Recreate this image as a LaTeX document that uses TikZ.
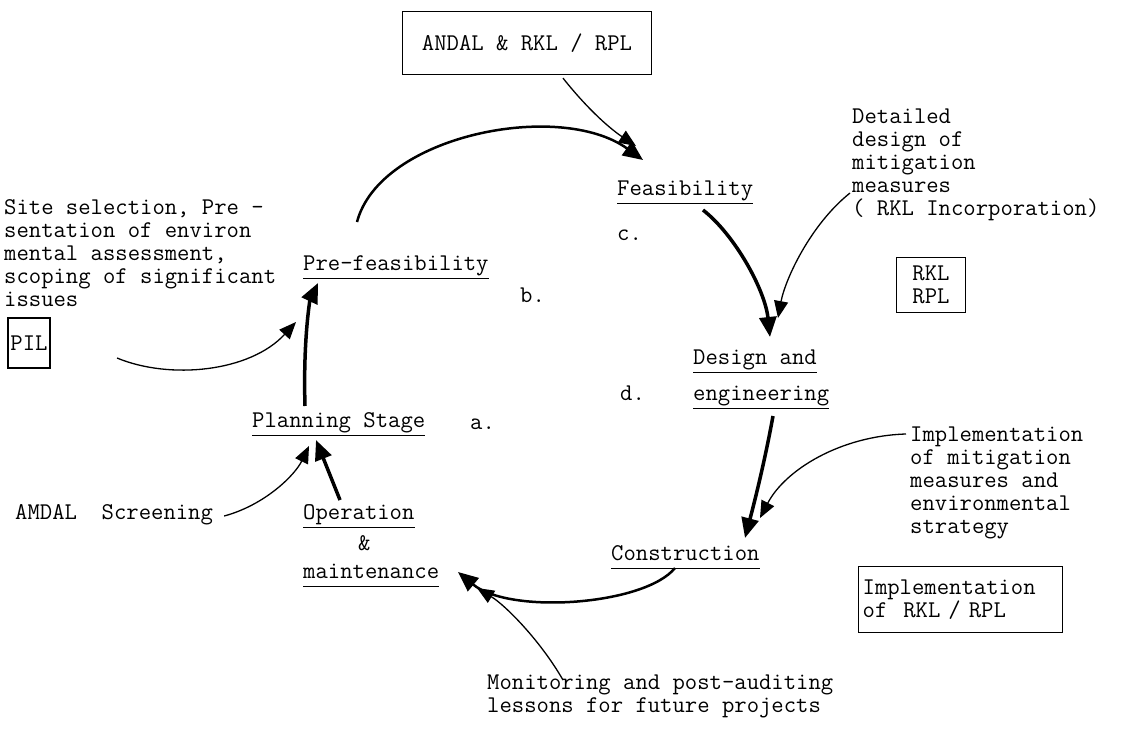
\documentclass[tikz,border=0pt]{standalone}
\usepackage{fontspec}
\usetikzlibrary{arrows.meta,calc}
\begin{document}
\begin{tikzpicture}[x=1pt,y=-1pt,
  txt/.style={font=\ttfamily\fontsize{24}{23}\selectfont, inner sep=0pt, align=left},
  boxed/.style={txt, draw, line width=1.3pt, inner sep=4pt},
  uline/.style={line width=1pt},
  thinarrow/.style={line width=1.3pt, -{Triangle[length=17pt,width=14pt]}},
  thickarrow/.style={line width=3.5pt, -{Triangle[length=20pt,width=17pt]}},
  arcarrow/.style={line width=2.5pt, -{Triangle[length=20pt,width=17pt]}},
]
\fill[white] (0,0) rectangle (1136,744);
\useasboundingbox (0,0) rectangle (1136,744);

% boxes
\node[boxed, minimum width=249pt, minimum height=63pt, align=center] (top) at (527,43) {ANDAL \& RKL / RPL};
\node[boxed, minimum width=42pt, minimum height=50pt, inner sep=2pt] (pil) at (29,343) {PIL};
\node[boxed, minimum width=69pt, minimum height=55pt, align=center] (rkl) at (931,285) {RKL\\RPL};
\node[boxed, anchor=north west, text width=196pt, minimum height=66pt, inner xsep=4pt] (implbox) at (858,566) {Implementation\\of\ \ RKL / RPL};

% stage labels
\node[txt, anchor=base west] (pre) at (303,270) {Pre-feasibility};
\node[txt, anchor=base west] (bl) at (520,302) {b.};
\node[txt, anchor=base west] (plan) at (252,427) {Planning Stage};
\node[txt, anchor=base west] (al) at (470,429) {a.};
\node[txt, anchor=base west] (op) at (303,519) {Operation};
\node[txt, anchor=base west] (amp) at (358,550) {\&};
\node[txt, anchor=base west] (maint) at (303,578) {maintenance};
\node[txt, anchor=base west] (cons) at (611,560) {Construction};
\node[txt, anchor=base west] (desa) at (693,364) {Design and};
\node[txt, anchor=base west] (dl) at (620,400) {d.};
\node[txt, anchor=base west] (eng) at (693,400) {engineering};
\node[txt, anchor=base west] (feas) at (617,195) {Feasibility};
\node[txt, anchor=base west] (cl) at (617,240) {c.};

% comment texts
\node[txt, anchor=north west] (site) at (4,199)
  {Site selection, Pre -\\sentation of environ\\mental assessment,\\scoping of significant\\issues};
\node[txt, anchor=base west] (amdal) at (15,519) {AMDAL\ \ Screening};
\node[txt, anchor=north west] (det) at (852,109)
  {Detailed\\design of\\mitigation\\measures\\( RKL Incorporation)};
\node[txt, anchor=north west] (impl) at (910,427)
  {Implementation\\of mitigation\\measures and\\environmental\\strategy};
\node[txt, anchor=north west] (mon) at (487,675)
  {Monitoring and post-auditing\\lessons for future projects};

% underlines
\foreach \n in {pre,plan,op,maint,cons,desa,eng,feas}
  \draw[uline] ($(\n.base west)+(0,8)$) -- ($(\n.base east)+(0,8)$);

% connectors
\draw[thinarrow] ($(top.south)+(36,3)$) .. controls (590,112) and (612,130) .. ($(feas.base west)+(19,-49)$);
\draw[arcarrow] ($(pre.base west)+(54,-48)$) .. controls (380,135) and (560,100) .. ($(feas.base west)+(26,-35)$);
\draw[thickarrow] ($(feas.base west)+(86,15)$) .. controls (735,235) and (765,290) .. ($(desa.base west)+(77,-27)$);
\draw[thinarrow] ($(det.north west)+(-2,84)$) .. controls (810,225) and (785,280) .. ($(desa.base west)+(85,-46)$);
\draw[thickarrow] ($(eng.base west)+(80,16)$) .. controls (765,460) and (755,500) .. ($(cons.base west)+(134,-22)$);
\draw[thinarrow] ($(impl.north west)+(-4,7)$) .. controls (840,436) and (785,470) .. ($(cons.base west)+(149,-42)$);
\draw[arcarrow] ($(cons.base west)+(64,8)$) .. controls (645,605) and (510,615) .. ($(maint.base west)+(155,-6)$);
\draw[thinarrow] ($(mon.north west)+(76,5)$) .. controls (540,640) and (505,605) .. ($(maint.base west)+(174,10)$);
\draw[thickarrow] ($(op.base west)+(37,-19)$) -- ($(plan.base west)+(64,13)$);
\draw[thinarrow] ($(amdal.base east)+(11,-3)$) .. controls (265,505) and (295,475) .. ($(plan.base west)+(57,19)$);
\draw[thickarrow] ($(plan.base west)+(53,-21)$) .. controls (303,340) and (310,300) .. ($(pre.base west)+(15,13)$);
\draw[thinarrow] ($(site.north west)+(113,159)$) .. controls (170,380) and (250,372) .. ($(pre.base west)+(-7,52)$);
\end{tikzpicture}
\end{document}
